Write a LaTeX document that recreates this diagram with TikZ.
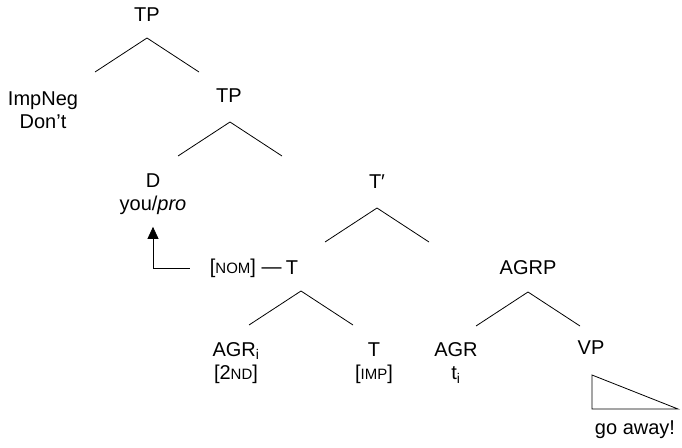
\documentclass[tikz,border=0pt]{standalone}
\usepackage{fontspec}
\setmainfont{Liberation Sans}
\usetikzlibrary{arrows.meta}
% small-cap feature labels
\newcommand\feat[1]{{\fontsize{15}{15}\selectfont #1}}
% a binary branch hanging from a fork point
\newcommand\fork[1]{\draw (#1) +(-52,34) -- (#1) -- +(52,34);}
\tikzset{cat/.style={font=\fontsize{20}{23}\selectfont,inner sep=0pt,align=center}}
\begin{document}
\begin{tikzpicture}[x=1pt,y=-1pt,line width=.8pt]
  \useasboundingbox (0,0) rectangle (682,447);
  % labels
  \node[cat] (tp1) at (147,15) {TP};
  \node[cat] (neg) at (43,110) {ImpNeg\\Don’t};
  \node[cat] (tp2) at (229,96) {TP};
  \node[cat] (d) at (153,194) {D\\you/\textit{pro}};
  \node[cat] (tbar) at (377,182) {T′};
  \node[cat] (t) at (292,268) {T};
  \node[cat,anchor=east] (nom) at (282,268) {[\feat{NOM}] —};
  \node[cat] (agrp) at (528,268) {AGRP};
  \node[cat] (agri) at (236,363) {AGR\textsubscript{i}\\{}[2\feat{ND}]};
  \node[cat] (timp) at (374,363) {T\\{}[\feat{IMP}]};
  \node[cat] (agr) at (456,363) {AGR\\t\textsubscript{i}};
  \node[cat] (vp) at (591,348) {VP};
  \node[cat] (go) at (635,430) {go away!};
  % branches
  \coordinate (tp1 f) at (147,38);
  \coordinate (tp2 f) at (230,122);
  \coordinate (tbar f) at (377,208);
  \coordinate (t f) at (301,291);
  \coordinate (agrp f) at (528,292);
  \fork{tp1 f}
  \fork{tp2 f}
  \fork{tbar f}
  \fork{t f}
  \fork{agrp f}
  % VP triangle
  \coordinate (vp a) at (592,375);
  \coordinate (vp b) at (592,409);
  \coordinate (vp c) at (678,409);
  \draw (vp a) -- (vp b) -- (vp c) -- cycle;
  % feature movement
  \draw[-{Triangle[width=11pt,length=12pt]},shorten >=12pt]
    ([xshift=-20pt]nom.west) -| (d.south);
\end{tikzpicture}
\end{document}
